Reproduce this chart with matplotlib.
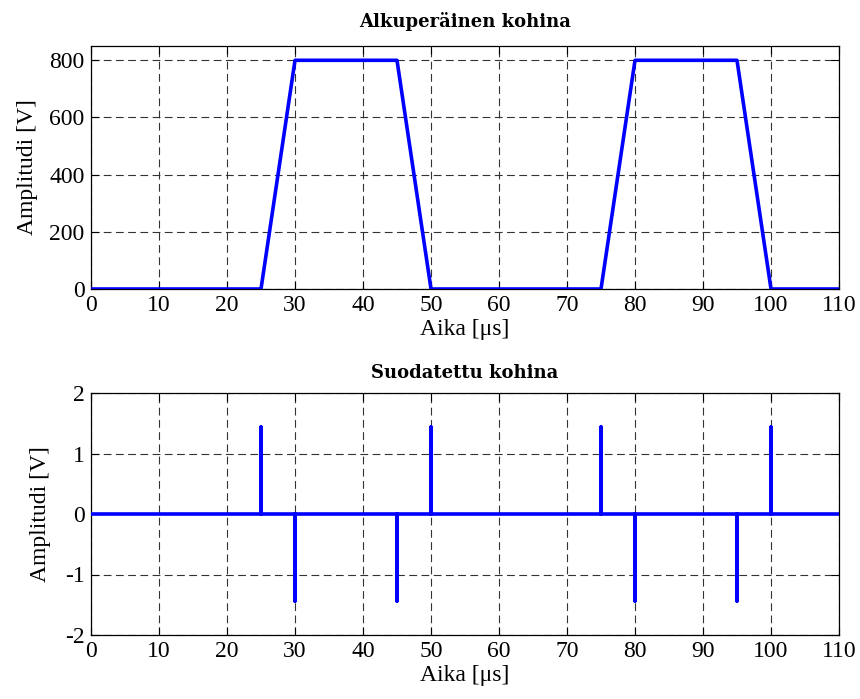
import matplotlib
matplotlib.use("Agg")
import matplotlib.pyplot as plt
import numpy as np

plt.rcParams['font.family'] = 'serif'
plt.rcParams['font.serif'] = ['Liberation Serif']
plt.rcParams['axes.unicode_minus'] = False

# Original noise: trapezoid breakpoints
orig_t = [0, 25, 30, 45, 50, 75, 80, 95, 100, 110]
orig_v = [0, 0, 800, 800, 0, 0, 800, 800, 0, 0]

# Filtered noise: spike times and amplitudes
spike_t = [25, 30, 45, 50, 75, 80, 95, 100]
spike_a = [1.43, -1.43, -1.43, 1.43, 1.43, -1.43, -1.43, 1.43]
t_end = 110

xticks = list(range(0, 111, 10))
yticks_top = [0, 200, 400, 600, 800]
yticks_bot = [-2, -1, 0, 1, 2]

# build filtered line
ft = [0]
fv = [0]
for t, a in zip(spike_t, spike_a):
    ft += [t, t, t]
    fv += [0, a, 0]
ft.append(t_end)
fv.append(0)

fig = plt.figure(figsize=(8.6, 6.99), dpi=100)
W, H = 860, 699
ax1 = fig.add_axes([91 / W, 1 - 289 / H, (839 - 91) / W, (289 - 46) / H])
ax2 = fig.add_axes([91 / W, 1 - 635 / H, (839 - 91) / W, (635 - 393) / H])

FS = 17
title_font = dict(family='DejaVu Serif', fontsize=13, fontweight='bold')

def style(ax):
    ax.grid(True, color='#333333', linestyle=(0, (7, 4)), linewidth=0.8)
    ax.tick_params(direction='in', top=True, right=True, labelsize=FS,
                   length=6, width=0.8, pad=4.5)
    for s in ax.spines.values():
        s.set_linewidth(0.9)
    ax.set_xlim(0, 110)
    ax.set_xticks(xticks)
    ax.set_xticklabels([str(x) for x in xticks], family='Liberation Serif')

ax1.plot(orig_t, orig_v, color='#0000ff', linewidth=2.6, zorder=3)
style(ax1)
ax1.set_ylim(0, 850)
ax1.set_yticks(yticks_top)
ax1.set_yticklabels([str(v) for v in yticks_top], family='Liberation Serif')
ax1.set_xlabel('Aika [μs]', fontsize=FS, labelpad=2, family='Liberation Serif')
ax1.set_ylabel('Amplitudi [V]', fontsize=FS, labelpad=8, family='Liberation Serif')
ax1.set_title('Alkuperäinen kohina', pad=14, **title_font)

ax2.plot(ft, fv, color='#0000ff', linewidth=2.6, zorder=3)
style(ax2)
ax2.set_ylim(-2, 2)
ax2.set_yticks(yticks_bot)
ax2.set_yticklabels([str(v) for v in yticks_bot], family='Liberation Serif')
ax2.set_xlabel('Aika [μs]', fontsize=FS, labelpad=2, family='Liberation Serif')
ax2.set_ylabel('Amplitudi [V]', fontsize=FS, labelpad=10, family='Liberation Serif')
ax2.set_title('Suodatettu kohina', pad=11, **title_font)

fig.savefig('out.png', dpi=100)
